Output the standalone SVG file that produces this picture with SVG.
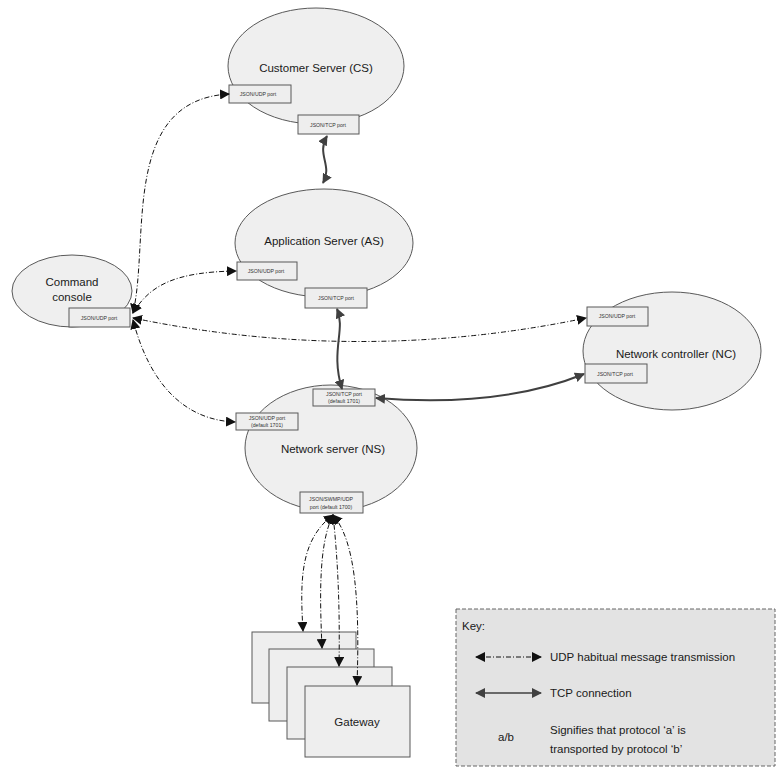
<svg xmlns="http://www.w3.org/2000/svg" width="782" height="768" viewBox="0 0 782 768">
<style>
.bg{fill:#ffffff}
.node{fill:#efefef;stroke:#595959;stroke-width:1}
.port{fill:#eeeeee;stroke:#595959;stroke-width:1}
.lbl{font-family:"Liberation Sans",Arial,sans-serif;font-size:11.5px;fill:#1a1a1a;text-anchor:middle}
.plbl{font-family:"Liberation Sans",Arial,sans-serif;font-size:5.2px;fill:#333;text-anchor:middle}
.klbl{font-family:"Liberation Sans",Arial,sans-serif;font-size:11.5px;fill:#1a1a1a}
.udp{fill:none;stroke:#111;stroke-width:1;stroke-dasharray:5,2,1,2;marker-start:url(#ua);marker-end:url(#ua)}
.tcp{fill:none;stroke:#404040;stroke-width:2;marker-start:url(#ta);marker-end:url(#ta)}
.key{fill:#e3e3e3;stroke:#666;stroke-width:1;stroke-dasharray:4,2}
</style>
<defs>
<marker id="ua" viewBox="0 0 10 10" refX="9" refY="5" markerWidth="10" markerHeight="10" markerUnits="userSpaceOnUse" orient="auto-start-reverse"><path d="M0,0 L10,5 L0,10 z" fill="#111"/></marker>
<marker id="ta" viewBox="0 0 10 10" refX="9" refY="5" markerWidth="10" markerHeight="10" markerUnits="userSpaceOnUse" orient="auto-start-reverse"><path d="M0,0 L10,5 L0,10 z" fill="#404040"/></marker>
</defs>
<rect class="bg" x="0" y="0" width="782" height="768"/>

<g id="cs">
<ellipse class="node" cx="316" cy="66" rx="88" ry="58"/>
<text class="lbl" x="316" y="72">Customer Server (CS)</text>
<rect class="port" x="229" y="85" width="62" height="18"/>
<text class="plbl" x="258" y="96">JSON/UDP port</text>
<rect class="port" x="298" y="115" width="61" height="19"/>
<text class="plbl" x="328" y="127">JSON/TCP port</text>
</g>

<g id="as">
<ellipse class="node" cx="324" cy="243" rx="89" ry="54"/>
<text class="lbl" x="324" y="245">Application Server (AS)</text>
<rect class="port" x="237" y="262" width="60" height="18"/>
<text class="plbl" x="266" y="273">JSON/UDP port</text>
<rect class="port" x="305" y="288" width="62" height="20"/>
<text class="plbl" x="336" y="300">JSON/TCP port</text>
</g>

<g id="cc">
<ellipse class="node" cx="72" cy="291" rx="60" ry="36"/>
<text class="lbl" x="72" y="286">Command</text>
<text class="lbl" x="72" y="301">console</text>
<rect class="port" x="69" y="308" width="61" height="19"/>
<text class="plbl" x="99" y="320">JSON/UDP port</text>
</g>

<g id="nc">
<ellipse class="node" cx="672" cy="351" rx="89" ry="59"/>
<text class="lbl" x="676" y="358">Network controller (NC)</text>
<rect class="port" x="587" y="307" width="61" height="19"/>
<text class="plbl" x="617" y="318">JSON/UDP port</text>
<rect class="port" x="585" y="364" width="62" height="19"/>
<text class="plbl" x="615" y="376">JSON/TCP port</text>
</g>

<g id="ns">
<ellipse class="node" cx="331" cy="448" rx="86" ry="63"/>
<text class="lbl" x="333" y="453">Network server (NS)</text>
<rect class="port" x="313" y="389" width="62" height="17"/>
<text class="plbl" x="344" y="396">JSON/TCP port</text>
<text class="plbl" x="344" y="403">(default 1701)</text>
<rect class="port" x="236" y="413" width="62" height="17"/>
<text class="plbl" x="267" y="420">JSON/UDP port</text>
<text class="plbl" x="267" y="427">(default 1701)</text>
<rect class="port" x="300" y="492" width="63" height="21"/>
<text class="plbl" x="331" y="501">JSON/SWMP/UDP</text>
<text class="plbl" x="331" y="509">port (default 1700)</text>
</g>

<g id="gw">
<rect class="port" x="252" y="632" width="104" height="71"/>
<rect class="port" x="269" y="649" width="105" height="72"/>
<rect class="port" x="287" y="667" width="105" height="72"/>
<rect class="port" x="305" y="686" width="105" height="71"/>
<text class="lbl" x="357" y="726">Gateway</text>
</g>

<g id="connectors">
<path class="udp" d="M133,313 C150,240 120,100 229,94"/>
<path class="udp" d="M133,313 C150,285 175,272 236,271"/>
<path class="udp" d="M133,318 Q360,365 586,318"/>
<path class="udp" d="M133,320 C150,385 185,420 235,422"/>
<path class="udp" d="M333,515 C300,540 300,580 303,631"/>
<path class="udp" d="M333,515 C318,545 320,600 322,648"/>
<path class="udp" d="M333,515 C338,560 340,610 339,666"/>
<path class="udp" d="M333,515 C355,540 360,600 357,685"/>
<path class="tcp" d="M327,136 C316,155 333,165 323,183"/>
<path class="tcp" d="M337,309 C346,330 330,350 342,389"/>
<path class="tcp" d="M376,398 Q500,408 584,374"/>
</g>

<g id="legend">
<rect class="key" x="456" y="609" width="319" height="157"/>
<text class="klbl" x="462" y="630">Key:</text>
<path class="udp" d="M476,657 L541,657"/>
<text class="klbl" x="550" y="661">UDP habitual message transmission</text>
<path class="tcp" d="M476,693 L541,693" style="stroke-width:1.5"/>
<text class="klbl" x="550" y="697">TCP connection</text>
<text class="klbl" x="498" y="741">a/b</text>
<text class="klbl" x="550" y="734">Signifies that protocol ‘a’ is</text>
<text class="klbl" x="550" y="753">transported by protocol ‘b’</text>
</g>
</svg>
